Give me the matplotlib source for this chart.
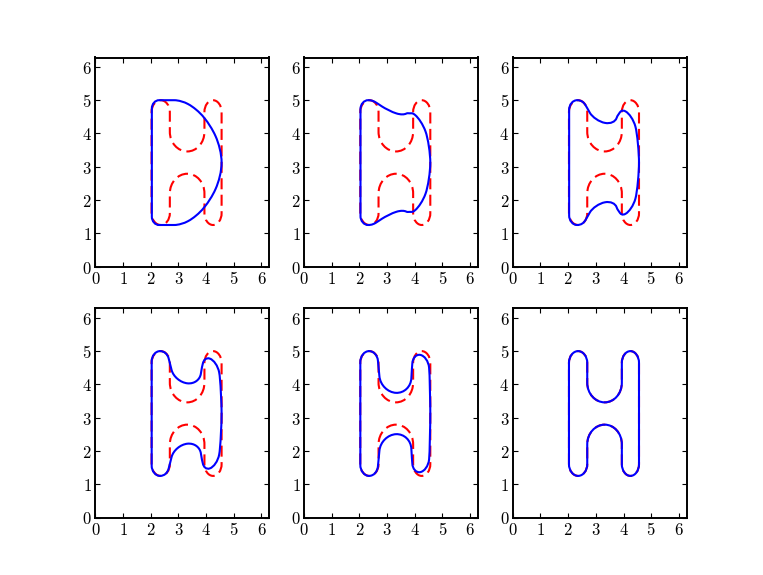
import numpy as np
import matplotlib
matplotlib.use('Agg')
import matplotlib.pyplot as plt
from matplotlib.path import Path
from matplotlib.patches import PathPatch
from matplotlib.ticker import FuncFormatter, MultipleLocator

plt.rcParams['mathtext.fontset'] = 'cm'
plt.rcParams['xtick.direction'] = 'in'
plt.rcParams['ytick.direction'] = 'in'
plt.rcParams['xtick.top'] = True
plt.rcParams['ytick.right'] = True
plt.rcParams['xtick.major.size'] = 3.5
plt.rcParams['ytick.major.size'] = 3.5
plt.rcParams['axes.linewidth'] = 1.4

# outline of the "D": knots going clockwise from the middle of the left side,
# with a tangent handle at each knot (smooth cubic bezier through them)
d_knots = [
    (2.04, 3.125), (2.04, 4.75), (2.30, 5.0), (2.575, 5.0), (2.85, 5.0),
    (3.335, 4.890), (3.618, 4.731), (3.798, 4.594), (3.965, 4.435),
    (4.342, 3.919), (4.56, 3.125),
    (4.342, 2.331), (3.965, 1.815), (3.798, 1.656), (3.618, 1.519),
    (3.335, 1.360), (2.85, 1.25), (2.575, 1.25), (2.30, 1.25), (2.04, 1.50),
]
d_handles = [
    (0, 0.3), (0, 0.14), (0.14, 0), (0.1, 0), (0.16, 0),
    (0.128, -0.056), (0.077, -0.052), (0.058, -0.049), (0.101, -0.105),
    (0.118, -0.221), (0, -0.264),
    (-0.118, -0.221), (-0.101, -0.105), (-0.058, -0.049), (-0.077, -0.052),
    (-0.128, -0.056), (-0.16, 0), (-0.1, 0), (-0.14, 0), (0, 0.14),
]

# outline of the "H", same knot layout
h_knots = [
    (2.03, 3.125), (2.03, 4.65), (2.36, 5.0), (2.69, 4.65), (2.69, 4.05),
    (3.32, 3.46), (3.94, 4.05), (3.94, 4.65), (4.25, 5.0),
    (4.56, 4.65), (4.56, 3.125),
    (4.56, 1.60), (4.25, 1.25), (3.94, 1.60), (3.94, 2.20),
    (3.32, 2.79), (2.69, 2.20), (2.69, 1.60), (2.36, 1.25), (2.03, 1.60),
]
h_handles = [
    (0, 0.3), (0, 0.19), (0.18, 0), (0, -0.19), (0, -0.33),
    (0.34, 0), (0, 0.33), (0, 0.19), (0.17, 0),
    (0, -0.19), (0, -0.3),
    (0, -0.19), (-0.17, 0), (0, 0.19), (0, 0.33),
    (-0.34, 0), (0, -0.33), (0, -0.19), (-0.18, 0), (0, 0.19),
]

# how far each panel has morphed from D to H
blend = [0.0, 0.2, 0.4, 0.6, 0.8, 1.0]


def outline(knots, handles):
    k = np.array(knots + knots[:1])
    h = np.array(handles + handles[:1])
    verts = [k[0]]
    for i in range(1, len(k)):
        verts += [k[i - 1] + h[i - 1], k[i] - h[i], k[i]]
    codes = [Path.MOVETO] + [Path.CURVE4] * (len(verts) - 1)
    return np.array(verts), codes


d_verts, codes = outline(d_knots, d_handles)
h_verts, _ = outline(h_knots, h_handles)

fig, axes = plt.subplots(2, 3, figsize=(7.63, 5.75), dpi=100)
fig.patch.set_facecolor('white')
fig.subplots_adjust(left=0.125, right=0.9, bottom=0.1, top=0.9,
                    wspace=0.2, hspace=0.2)

fmt = FuncFormatter(lambda v, p: '$%d$' % round(v))
for ax, w in zip(axes.flat, blend):
    ax.add_patch(PathPatch(Path(h_verts, codes), fill=False, edgecolor='red',
                           lw=1.5, linestyle=(0, (5.3, 2.6))))
    cur = (1 - w) * d_verts + w * h_verts
    ax.add_patch(PathPatch(Path(cur, codes), fill=False, edgecolor='blue', lw=1.5))
    ax.set_xlim(0, 2 * np.pi)
    ax.set_ylim(0, 2 * np.pi)
    ax.xaxis.set_major_locator(MultipleLocator(1))
    ax.yaxis.set_major_locator(MultipleLocator(1))
    ax.xaxis.set_major_formatter(fmt)
    ax.yaxis.set_major_formatter(fmt)
    ax.tick_params(labelsize=12, pad=2.5)

plt.savefig('out.png', dpi=100)
